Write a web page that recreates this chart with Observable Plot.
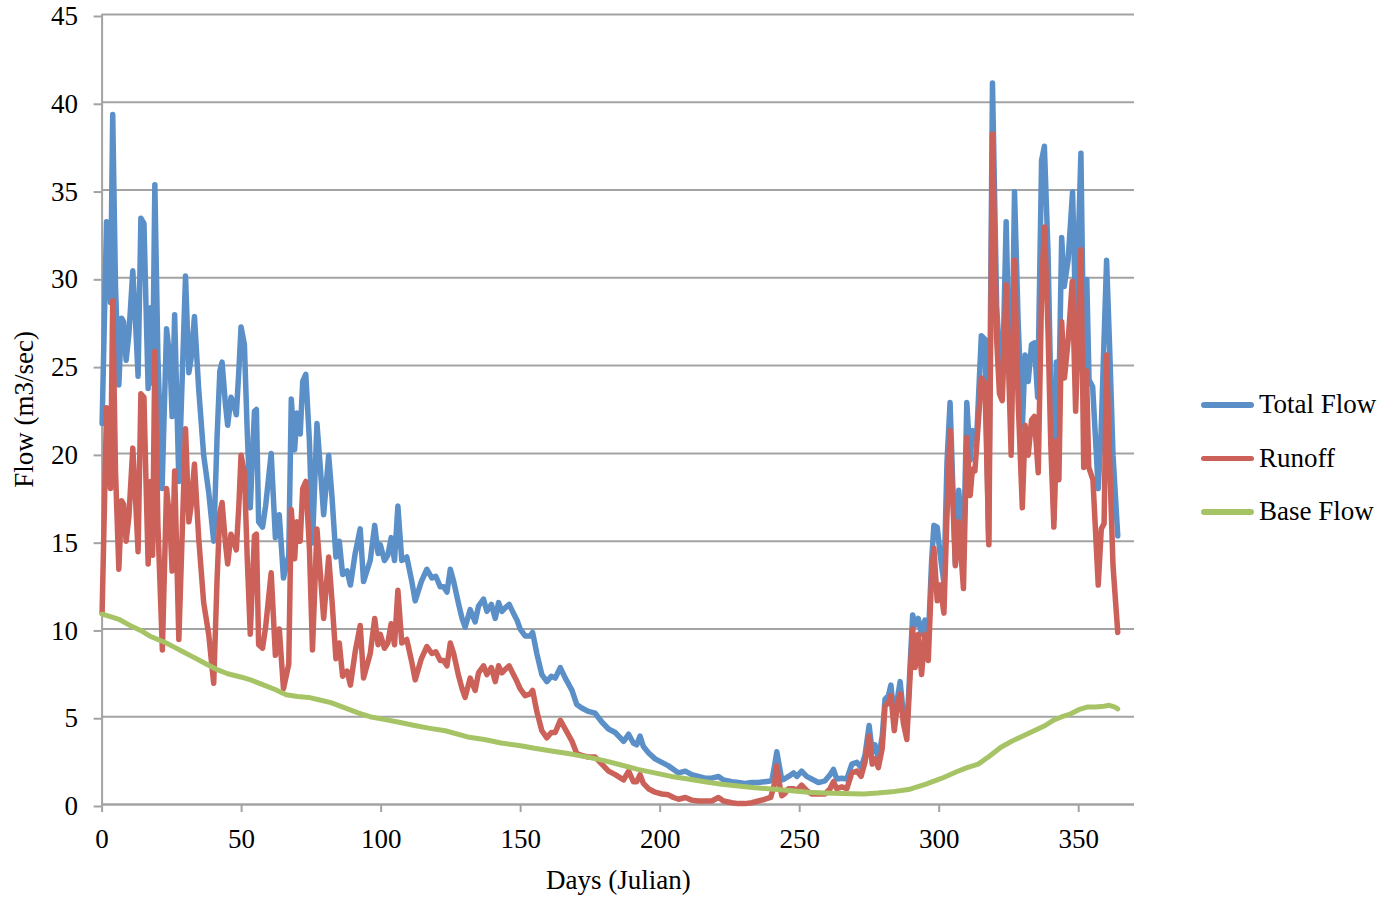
<!DOCTYPE html>
<html>
<head>
<meta charset="utf-8">
<script src="https://cdn.jsdelivr.net/npm/d3@7"></script>
<script src="https://cdn.jsdelivr.net/npm/@observablehq/plot@0.6"></script>
<style>
  html, body { margin: 0; padding: 0; background: #fff; }
  #wrap { position: relative; width: 1390px; height: 899px; font-family: "Liberation Serif", "DejaVu Serif", serif; }
  #chart { position: absolute; left: 0; top: 0; }
  #legend { position: absolute; left: 1201px; top: 378px; font-size: 27px; color: #000; }
  .row { display: flex; align-items: center; height: 53.5px; }
  .sw { width: 53px; height: 5.5px; border-radius: 3px; margin-right: 5px; }
</style>
</head>
<body>
<div id="wrap">
  <div id="chart"></div>
  <div id="legend"></div>
</div>
<script>
const seriesNames = ["Total Flow", "Runoff", "Base Flow"];
const seriesColors = ["#5b8fc8", "#cc6159", "#a6c465"];
const xTicks = [0, 50, 100, 150, 200, 250, 300, 350];
const yTicks = [0, 5, 10, 15, 20, 25, 30, 35, 40, 45];

const totalDays = [0,1.6,2.3,3.0,3.8,4.8,6.0,7.0,7.7,8.6,9.6,11.0,12.0,12.9,13.9,15.0,15.8,16.5,17.4,18.1,18.9,20.0,21.5,23.1,24.3,25.1,26.0,27.5,29.9,31.1,31.9,33.1,34.6,36.4,38.2,40.0,41.2,42.2,43.0,44.2,45.0,46.2,47.2,48.1,49.0,49.8,51.0,52.0,53.1,54.6,55.3,56.1,57.5,58.6,60.6,62.1,63.5,65.0,66.9,67.8,69.0,69.8,71.0,71.9,73.0,74.3,75.4,77.0,78.2,79.4,81.2,82.4,83.8,85.0,86.2,87.8,89.0,90.7,92.5,93.7,94.9,96.1,97.7,98.9,99.7,101.2,102.4,103.6,104.8,106.0,107.4,109.2,111.0,112.2,114.4,116.4,118.2,119.6,121.2,122.4,123.6,124.8,126.0,127.8,129.0,130.1,131.9,133.7,134.9,136.7,137.9,139.5,140.9,142.1,143.3,144.5,145.9,147.1,148.7,149.8,151.6,153.4,154.3,155.8,157.6,159.4,161.0,162.4,164.2,166.0,168.4,170.1,171.9,174.3,176.7,179.1,181.5,183.9,186.9,188.7,190.4,191.6,192.8,194.0,195.8,198.2,200.6,203.0,204.8,206.6,209.0,211.3,213.7,216.1,218.5,220.9,222.7,225.7,228.0,230.4,232.8,235.2,237.6,240.0,241.0,241.8,242.6,243.6,244.5,246.0,247.8,249.0,250.7,252.5,254.3,256.7,259.1,260.9,262.1,263.3,265.1,266.9,268.7,270.5,272.0,273.4,274.9,276.0,277.0,278.2,279.6,280.6,281.8,282.7,283.9,285.1,286.0,287.2,288.4,289.6,290.5,291.4,292.5,293.7,294.9,296.1,297.3,298.1,299.3,300.3,301.7,302.8,303.9,305.8,307.0,308.7,309.9,311.1,311.9,313.4,315.1,316.4,317.7,319.1,320.6,321.6,322.6,324.0,325.3,325.8,327.0,328.3,329.8,330.8,331.9,333.1,334.1,335.3,336.7,337.7,339.0,340.0,341.2,342.0,342.9,343.9,344.8,346.2,347.8,349.0,350.8,351.9,352.9,353.7,355.0,357.0,358.0,360.0,361.2,362.3,364.0];
const totalFlow = [21.7,33.2,33.0,28.6,39.3,29.5,23.9,27.7,27.5,25.3,26.8,30.4,27.4,24.4,33.4,33.1,28.0,23.7,28.3,24.0,35.3,25.5,18.0,27.1,25.4,22.1,27.9,18.4,30.1,24.6,25.4,27.8,23.7,19.9,17.8,15.0,20.9,24.7,25.2,22.8,21.6,23.2,22.8,22.2,24.7,27.2,26.2,21.3,16.9,22.4,22.5,16.1,15.8,17.0,20.0,15.2,16.5,12.9,14.2,23.1,20.2,22.3,21.1,24.1,24.5,20.7,14.9,21.7,19.2,16.5,19.9,17.5,14.1,15.0,13.1,13.3,12.5,14.3,15.7,12.7,13.3,13.9,15.9,14.3,14.8,13.9,14.2,15.2,13.9,17.0,13.9,14.1,12.7,11.6,12.7,13.4,12.9,13.0,12.4,12.4,12.1,13.4,12.7,11.4,10.6,10.1,11.1,10.4,11.3,11.7,11.0,11.4,10.6,11.5,11.0,11.2,11.4,11.0,10.5,10.0,9.6,9.6,9.8,8.6,7.4,7.0,7.3,7.2,7.8,7.2,6.5,5.7,5.5,5.3,5.2,4.7,4.3,4.1,3.6,4.0,3.5,3.4,3.9,3.3,2.95,2.6,2.4,2.2,2.0,1.8,1.9,1.7,1.6,1.5,1.5,1.6,1.4,1.3,1.25,1.2,1.25,1.25,1.3,1.35,2.2,3.0,2.3,1.4,1.45,1.6,1.8,1.6,1.9,1.6,1.45,1.25,1.35,1.7,2.0,1.45,1.5,1.45,2.3,2.4,2.1,2.8,4.5,3.0,3.4,2.6,3.9,6.0,6.2,6.8,4.9,6.1,7.0,5.1,4.2,8.0,10.8,10.2,10.6,9.7,10.5,9.4,13.9,15.9,15.8,14.3,12.6,19.5,22.9,13.7,17.9,14.0,22.9,19.6,21.3,20.8,26.7,26.5,15.0,41.1,28.4,25.6,23.5,33.2,24.0,22.0,34.9,27.5,21.5,25.6,24.1,26.2,26.3,23.2,36.7,37.5,31.5,23.7,16.3,25.2,23.3,32.3,29.5,31.0,34.9,27.3,37.1,24.3,29.9,24.2,23.8,18.0,21.1,31.0,25.5,19.9,15.3];

const runoffDays = [0,1.6,2.3,3.0,3.8,4.8,6.0,7.0,7.7,8.6,9.6,11.0,12.0,12.9,13.9,15.0,15.8,16.5,17.4,18.1,18.9,20.0,21.6,23.1,24.3,25.1,26.0,27.5,29.9,31.1,31.9,33.1,34.6,36.4,38.2,40.0,41.2,42.2,43.0,44.2,45.0,46.2,47.2,48.1,49.0,49.8,51.0,52.0,53.1,54.6,55.3,56.1,57.5,58.6,60.6,62.1,63.5,65.0,66.9,67.8,69.0,69.8,71.0,71.9,73.0,74.3,75.4,77.0,78.2,79.4,81.2,82.4,83.8,85.0,86.2,87.8,89.0,90.7,92.5,93.7,94.9,96.1,97.7,98.9,99.7,101.2,102.4,103.6,104.8,106.0,107.4,109.2,111.0,112.2,114.4,116.4,118.2,119.6,121.2,122.4,123.6,124.8,126.0,127.8,129.0,130.1,131.9,133.7,134.9,136.7,137.9,139.5,140.9,142.1,143.3,144.5,145.9,147.1,148.7,149.8,151.6,153.4,154.3,155.8,157.6,159.4,161.0,162.4,164.2,166.0,168.4,170.1,171.9,174.3,176.7,179.1,181.5,183.9,186.9,188.7,190.4,191.6,192.8,194.0,195.8,198.2,200.6,203.0,204.8,206.6,209.0,211.3,213.7,216.1,218.5,220.9,222.7,225.7,228.0,230.4,232.8,235.2,237.6,239.6,241.0,241.8,242.6,243.6,244.5,246.0,247.8,249.0,250.7,252.5,254.3,256.7,259.1,260.9,262.1,263.3,265.1,266.9,268.7,270.5,272.0,273.4,274.9,276.0,277.0,278.2,279.6,280.6,281.8,282.7,283.9,285.1,286.0,287.2,288.4,289.6,290.5,291.4,292.5,293.7,294.9,296.1,297.3,298.1,299.3,300.3,301.7,302.8,303.9,305.8,307.0,308.7,309.9,311.1,311.9,312.8,314.0,315.1,316.4,317.8,319.1,320.6,321.6,322.6,324.0,325.8,327.0,328.3,329.8,330.8,331.9,333.1,334.1,335.5,336.8,337.8,339.0,340.0,341.1,342.0,342.9,343.9,344.9,346.2,347.7,348.9,350.8,351.8,352.8,353.6,355.1,357.0,358.1,359.1,360.0,361.1,362.3,364.0];
const runoff = [10.9,22.6,22.4,18.0,28.7,19.0,13.4,17.3,17.1,15.0,16.4,20.3,17.3,14.4,23.4,23.2,18.0,13.7,18.4,14.2,25.8,15.9,8.8,18.0,16.1,13.3,19.0,9.4,21.4,16.1,17.0,19.4,15.2,11.5,9.7,6.9,12.8,16.6,17.2,14.9,13.7,15.4,15.0,14.5,17.0,19.9,18.9,14.1,9.7,15.3,15.4,9.1,8.9,10.1,13.2,8.5,10.0,6.6,8.0,16.8,14.0,16.1,15.0,18.0,18.4,14.6,8.8,15.7,13.2,10.6,14.1,11.6,8.3,9.2,7.3,7.6,6.8,8.7,10.2,7.2,7.9,8.6,10.6,9.1,9.7,8.9,9.2,10.3,9.1,12.2,9.2,9.4,8.1,7.1,8.3,9.0,8.6,8.7,8.2,8.2,7.9,9.2,8.6,7.3,6.6,6.1,7.2,6.5,7.5,7.9,7.4,7.8,7.0,7.9,7.5,7.7,7.9,7.5,7.0,6.6,6.2,6.3,6.5,5.3,4.2,3.8,4.1,4.1,4.8,4.3,3.6,2.9,2.8,2.7,2.7,2.3,1.9,1.7,1.4,1.9,1.3,1.3,1.7,1.2,0.9,0.7,0.6,0.55,0.4,0.3,0.4,0.25,0.2,0.2,0.2,0.4,0.2,0.1,0.05,0.05,0.1,0.2,0.3,0.4,1.2,2.2,1.3,0.5,0.6,0.9,0.9,0.8,1.1,0.8,0.6,0.6,0.6,0.9,1.3,0.9,1.0,0.9,1.8,1.9,1.6,2.4,3.9,2.3,2.6,2.1,3.2,5.6,5.8,6.2,4.2,5.8,6.3,4.6,3.7,7.4,10.0,7.8,9.7,7.4,9.7,8.2,13.1,14.6,11.6,12.5,10.9,16.5,21.3,13.6,16.1,12.3,20.9,17.6,19.1,19.0,21.7,24.3,24.0,14.8,38.2,26.5,23.4,23.0,29.6,19.9,31.0,23.0,16.9,21.6,19.9,21.9,22.1,18.9,30.0,32.9,27.0,20.5,15.8,20.7,18.5,27.5,24.3,26.4,29.8,22.4,31.6,19.2,24.7,19.2,18.5,12.5,15.7,16.0,25.6,19.5,13.6,9.8];

const baseDays = [0,3,6,10,14,17,20,23,26,29,32,35,38,41,45,50,54,58,62,66,70,74,78,82,87,92,96,101,106,112,117,123,131,137,143,150,155,161,167,174,180,186,192,198,204,210,216,222,228,234,241,247,253,259,265,273,278,283,289,295,301,306,310,314,318,322,326,330,334,338,341,344,347,350,353,356,359,361,363,364];
const baseFlow = [10.85,10.7,10.55,10.2,9.9,9.6,9.4,9.2,8.95,8.7,8.45,8.2,7.95,7.7,7.45,7.25,7.05,6.8,6.55,6.25,6.15,6.1,5.95,5.8,5.5,5.2,5.0,4.85,4.7,4.5,4.35,4.2,3.85,3.7,3.5,3.35,3.2,3.05,2.9,2.7,2.5,2.25,2.0,1.8,1.6,1.45,1.3,1.15,1.05,0.95,0.87,0.78,0.7,0.65,0.62,0.6,0.65,0.72,0.85,1.15,1.5,1.85,2.1,2.3,2.75,3.25,3.6,3.9,4.2,4.5,4.8,5.0,5.15,5.4,5.55,5.55,5.6,5.65,5.55,5.45];

const toRows = (days, vals, name) => days.map((d, i) => ({day: d, flow: vals[i], series: name}));
const totalRows = toRows(totalDays, totalFlow, seriesNames[0]);
const runoffRows = toRows(runoffDays, runoff, seriesNames[1]);
const baseRows = toRows(baseDays, baseFlow, seriesNames[2]);

const gray = "#a3a3a3";
const font = "Liberation Serif, DejaVu Serif, serif";
const lineOpts = {x: "day", y: "flow", strokeWidth: 5.5, strokeLinejoin: "round", strokeLinecap: "round", curve: "linear"};

const chart = Plot.plot({
  width: 1180,
  height: 899,
  marginLeft: 101.6,
  marginRight: 46,
  marginTop: 14,
  marginBottom: 95,
  style: {fontFamily: font, fontSize: "26px", background: "#fff", color: "#000"},
  x: {domain: [0, 370], label: null},
  y: {domain: [0, 45], label: null},
  marks: [
    Plot.gridY(yTicks, {stroke: gray, strokeOpacity: 1, strokeWidth: 2}),
    Plot.axisY(yTicks, {tickSize: 8, tickPadding: 16, stroke: gray, strokeWidth: 2, strokeOpacity: 1, fontSize: 27, dy: 2,
      label: "Flow (m3/sec)", labelAnchor: "center", labelArrow: "none", labelOffset: 88}),
    Plot.axisX(xTicks, {tickSize: 8, tickPadding: 16, stroke: gray, strokeWidth: 2, strokeOpacity: 1, fontSize: 27,
      label: "Days (Julian)", labelAnchor: "center", labelArrow: "none", labelOffset: 84}),
    Plot.ruleX([0], {stroke: gray, strokeWidth: 2}),
    Plot.ruleY([0], {stroke: gray, strokeWidth: 2}),
    Plot.line(totalRows, {...lineOpts, stroke: seriesColors[0]}),
    Plot.line(runoffRows, {...lineOpts, stroke: seriesColors[1]}),
    Plot.line(baseRows, {...lineOpts, stroke: seriesColors[2], strokeWidth: 5})
  ]
});
document.getElementById("chart").appendChild(chart);

const legend = document.getElementById("legend");
seriesNames.forEach((name, i) => {
  const row = document.createElement("div");
  row.className = "row";
  const sw = document.createElement("div");
  sw.className = "sw";
  sw.style.background = seriesColors[i];
  const label = document.createElement("span");
  label.textContent = name;
  row.appendChild(sw);
  row.appendChild(label);
  legend.appendChild(row);
});
</script>
</body>
</html>
